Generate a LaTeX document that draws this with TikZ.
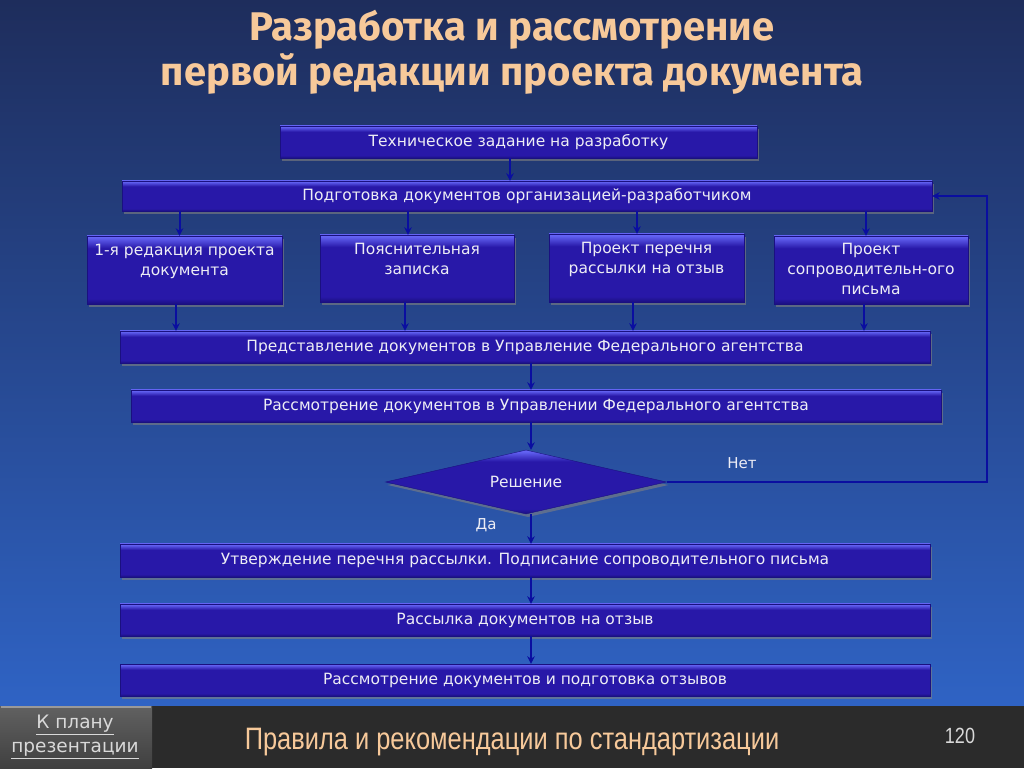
\documentclass[tikz,border=0pt]{standalone}
\usepackage{fontspec}
\setmainfont{DejaVu Sans}
\newfontfamily\titlefont{Fira Sans}
\newfontfamily\narrowfont[FakeStretch=0.82]{Liberation Sans}
\usetikzlibrary{shapes.geometric,arrows.meta,shadows}
\definecolor{bgtop}{HTML}{1E2D5C}
\definecolor{bgbot}{HTML}{2F63C4}
\definecolor{boxhi}{HTML}{6464F4}
\definecolor{boxmid}{HTML}{2818A8}
\definecolor{boxlo}{HTML}{1A1080}
\definecolor{boxtxt}{HTML}{EDEDF5}
\definecolor{arrowc}{HTML}{0A0EA0}
\definecolor{peach}{HTML}{F7C99A}
\definecolor{footbg}{HTML}{2B2B2B}
\pgfdeclareverticalshading{boxshade}{100bp}{color(0bp)=(boxlo); color(25bp)=(boxlo); color(29bp)=(boxmid); color(66bp)=(boxmid); color(74bp)=(boxhi); color(100bp)=(boxhi)}
\tikzset{
  blk/.style={rectangle, draw=boxlo, line width=0.4pt, shading=boxshade,
    drop shadow={shadow xshift=2pt, shadow yshift=-3pt, opacity=0.6}, inner sep=0pt},
  lbl/.style={text=boxtxt, font=\fontsize{15.5}{20}\selectfont, align=center},
  arr/.style={draw=arrowc, line width=2pt, -{Stealth[length=7.5pt,width=7.5pt]}},
}
\begin{document}
\begin{tikzpicture}[x=1pt,y=1pt]
\useasboundingbox (0,0) rectangle (1024,768);
% background
\shade[top color=bgtop, bottom color=bgbot] (0,62) rectangle (1024,768);
\fill[footbg] (0,0) rectangle (1024,62);
% title
\node[text=peach, font=\titlefont\bfseries\fontsize{40}{45}\selectfont, align=center] (title) at (512,716) {Разработка и рассмотрение\\первой редакции проекта документа};
% boxes
\node[blk, minimum width=477pt, minimum height=32pt] (tz) at (518.5,626) {};
\node[lbl] at (tz) {Техническое задание  на разработку};
\node[blk, minimum width=810pt, minimum height=30pt] (prep) at (527,572) {};
\node[lbl] at (prep) {Подготовка документов организацией-разработчиком};
\node[blk, minimum width=195pt, minimum height=68pt] (b1) at (184.5,498) {};
\node[lbl, anchor=north] at ([yshift=-5pt]b1.north) {1-я редакция проекта\\документа};
\node[blk, minimum width=194pt, minimum height=67pt] (b2) at (417,499.5) {};
\node[lbl, anchor=north] at ([yshift=-5pt]b2.north) {Пояснительная\\записка};
\node[blk, minimum width=195pt, minimum height=68pt] (b3) at (646.5,500) {};
\node[lbl, anchor=north] at ([yshift=-5pt]b3.north) {Проект перечня\\рассылки на отзыв};
\node[blk, minimum width=194pt, minimum height=68pt] (b4) at (871,498) {};
\node[lbl, anchor=north] at ([yshift=-4pt]b4.north) {Проект\\сопроводительн-ого\\письма};
\node[blk, minimum width=810pt, minimum height=32pt] (pres) at (525,421) {};
\node[lbl] at (pres) {Представление документов в Управление Федерального агентства};
\node[blk, minimum width=810pt, minimum height=32pt] (rev) at (536,362) {};
\node[lbl] at (rev) {Рассмотрение документов в Управлении Федерального агентства};
\node[diamond, aspect=4.4, minimum width=281pt, minimum height=64pt, inner sep=0pt, draw=boxlo, shading=boxshade, drop shadow={shadow xshift=2pt, shadow yshift=-3pt, opacity=0.6}] (dia) at (526,286) {};
\node[lbl] at (dia) {Решение};
\node[blk, minimum width=810pt, minimum height=33pt] (appr) at (525,207.5) {};
\node[lbl] at (appr) {Утверждение перечня рассылки. Подписание сопроводительного письма};
\node[blk, minimum width=810pt, minimum height=32pt] (send) at (525,148) {};
\node[lbl] at (send) {Рассылка документов на отзыв};
\node[blk, minimum width=810pt, minimum height=32pt] (last) at (525,88) {};
\node[lbl] at (last) {Рассмотрение документов и подготовка отзывов};
% connectors
\coordinate (fb) at (987,0);
\draw[arr] ([xshift=-8.5pt]tz.south) -- ([xshift=-8.5pt]tz.south |- prep.north);
\draw[arr] ([xshift=-5pt]b1.north |- prep.south) -- ([xshift=-5pt]b1.north);
\draw[arr] ([xshift=-9pt]b2.north |- prep.south) -- ([xshift=-9pt]b2.north);
\draw[arr] ([xshift=-9.5pt]b3.north |- prep.south) -- ([xshift=-9.5pt]b3.north);
\draw[arr] ([xshift=-5pt]b4.north |- prep.south) -- ([xshift=-5pt]b4.north);
\draw[arr] ([xshift=-8.5pt]b1.south) -- ([xshift=-8.5pt]b1.south |- pres.north);
\draw[arr] ([xshift=-12pt]b2.south) -- ([xshift=-12pt]b2.south |- pres.north);
\draw[arr] ([xshift=-13.5pt]b3.south) -- ([xshift=-13.5pt]b3.south |- pres.north);
\draw[arr] ([xshift=-7pt]b4.south) -- ([xshift=-7pt]b4.south |- pres.north);
\draw[arr] ([xshift=6pt]pres.south) -- ([xshift=6pt]pres.south |- rev.north);
\draw[arr] ([xshift=5pt]dia.north |- rev.south) -- ([xshift=5pt]dia.north);
\draw[arr] ([xshift=5pt]dia.south) -- ([xshift=5pt]dia.south |- appr.north);
\draw[arr] ([xshift=6pt]appr.south) -- ([xshift=6pt]appr.south |- send.north);
\draw[arr] ([xshift=6pt]send.south) -- ([xshift=6pt]send.south |- last.north);
\draw[arr] (dia.east) -- (dia.east -| fb) |- (prep.east);
\node[text=boxtxt, font=\fontsize{15}{18}\selectfont] (da) at (486,243) {Да};
\node[text=boxtxt, font=\fontsize{15}{18}\selectfont] (net) at (742,305) {Нет};
% footer
\shade[top color=black!62, bottom color=black!75] (0,0) rectangle (152,62);
\draw[black!40, line width=1.5pt] (1,61) -- (151,61);
\node[text=black!15, font=\fontsize{18.5}{24}\selectfont, align=center] (plan) at (75,31) {\underline{К плану}\\\underline{презентации}};
\node[text=peach, font=\narrowfont\fontsize{31}{34}\selectfont] (foot) at (512,26) {Правила и рекомендации  по стандартизации};
\node[text=black!15, font=\narrowfont\fontsize{22}{24}\selectfont] (num) at (960,32) {120};
\end{tikzpicture}
\end{document}
